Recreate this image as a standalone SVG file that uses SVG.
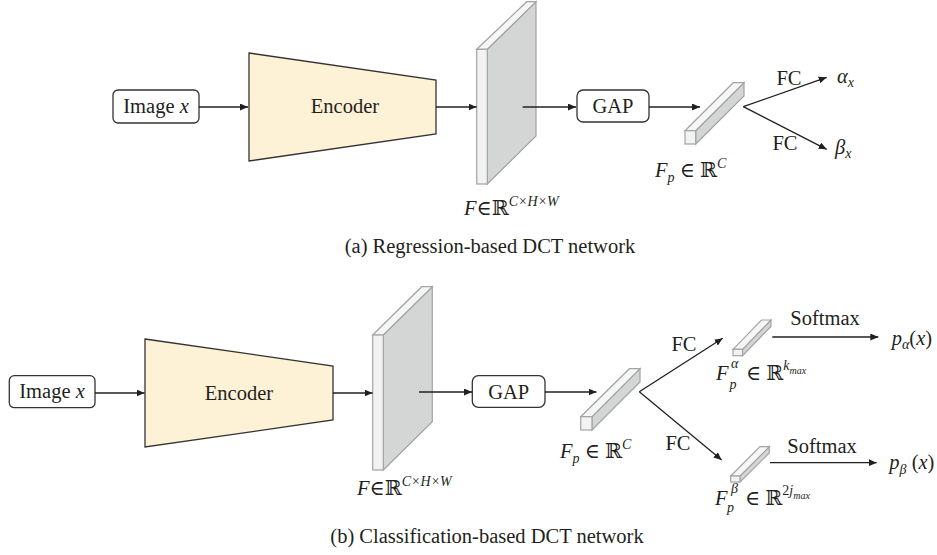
<svg xmlns="http://www.w3.org/2000/svg" width="937" height="555" viewBox="0 0 937 555">
  <defs>
    <marker id="arrow" viewBox="0 0 8 7" refX="8" refY="3.5" markerWidth="8" markerHeight="7" markerUnits="userSpaceOnUse" orient="auto">
      <path d="M0,0 L8,3.5 L0,7 z" fill="#231f20"/>
    </marker>
    <style>
      text { font-family: "Liberation Serif", "DejaVu Serif", serif; font-size: 20.5px; fill: #231f20; }
      .it { font-style: italic; }
      .sm { font-size: 14px; }
      .xs { font-size: 10px; }
      .box { fill: #ffffff; stroke: #333333; stroke-width: 1.3; }
      .enc { fill: #fdf2d6; stroke: #333333; stroke-width: 1.3; }
      .front { fill: #f2f2f2; stroke: #a3a3a3; stroke-width: 1.2; }
      .top { fill: #f6f6f6; stroke: #a3a3a3; stroke-width: 1.2; }
      .side { fill: #d4d5d5; stroke: #a3a3a3; stroke-width: 1.2; }
      .conn line { stroke: #231f20; stroke-width: 1.3; marker-end: url(#arrow); }
    </style>
  </defs>

  <!-- (a) regression branch -->
  <g id="a-image">
    <rect class="box" x="113" y="90" width="86" height="33" rx="5"/>
    <text x="156" y="113" text-anchor="middle">Image <tspan class="it">x</tspan></text>
  </g>
  <g id="a-encoder">
    <polygon class="enc" points="249,53 436,80 436,134 249,161"/>
    <text x="345" y="113" text-anchor="middle">Encoder</text>
  </g>
  <g id="a-feature">
    <polygon class="side" points="487.3,49.3 536,1.7 536,136 487.3,184"/>
    <polygon class="top" points="476.7,49.3 526.7,1.7 536,1.7 487.3,49.3"/>
    <rect class="front" x="476.7" y="49.3" width="10.6" height="134.7"/>
    <text x="464" y="215"><tspan class="it">F</tspan>∈ℝ<tspan class="sm it" dy="-9">C×H×W</tspan></text>
  </g>
  <g id="a-gap">
    <rect class="box" x="577" y="90" width="72" height="32" rx="6"/>
    <text x="613" y="113" text-anchor="middle">GAP</text>
  </g>
  <g id="a-pooled">
    <polygon class="side" points="695.7,130.7 744,82.7 744,96 695.7,144"/>
    <polygon class="top" points="685,130.7 733.3,82.7 744,82.7 695.7,130.7"/>
    <rect class="front" x="685" y="130.7" width="10.7" height="13.3"/>
    <text x="655" y="177"><tspan class="it">F</tspan><tspan class="sm it" dy="5">p</tspan><tspan dy="-5"> ∈ ℝ</tspan><tspan class="sm it" dy="-9">C</tspan></text>
  </g>
  <g id="a-alpha">
    <text x="837" y="83"><tspan class="it">α</tspan><tspan class="sm it" dy="4">x</tspan></text>
  </g>
  <g id="a-beta">
    <text x="835" y="154"><tspan class="it">β</tspan><tspan class="sm it" dy="4">x</tspan></text>
  </g>
  <g id="a-labels">
    <text x="789" y="85" text-anchor="middle">FC</text>
    <text x="785" y="150" text-anchor="middle">FC</text>
    <text x="490" y="253" text-anchor="middle">(a) Regression-based DCT network</text>
  </g>

  <!-- (b) classification branch -->
  <g id="b-image">
    <rect class="box" x="9.3" y="375.7" width="85.7" height="32" rx="5"/>
    <text x="52" y="398" text-anchor="middle">Image <tspan class="it">x</tspan></text>
  </g>
  <g id="b-encoder">
    <polygon class="enc" points="145,339 333,366 333,420 145,447"/>
    <text x="239" y="400" text-anchor="middle">Encoder</text>
  </g>
  <g id="b-feature">
    <polygon class="side" points="383.3,335 432.3,286.7 432.3,421.7 383.3,470"/>
    <polygon class="top" points="372.7,335 421.7,286.7 432.3,286.7 383.3,335"/>
    <rect class="front" x="372.7" y="335" width="10.6" height="135"/>
    <text x="357" y="495"><tspan class="it">F</tspan>∈ℝ<tspan class="sm it" dy="-9">C×H×W</tspan></text>
  </g>
  <g id="b-gap">
    <rect class="box" x="472.3" y="375.7" width="72.7" height="31.6" rx="6"/>
    <text x="508.7" y="399" text-anchor="middle">GAP</text>
  </g>
  <g id="b-pooled">
    <polygon class="side" points="592,416.7 640,368.7 640,382 592,430"/>
    <polygon class="top" points="580.7,416.7 629.4,368.7 640,368.7 592,416.7"/>
    <rect class="front" x="580.7" y="416.7" width="11.3" height="13.3"/>
    <text x="560" y="458"><tspan class="it">F</tspan><tspan class="sm it" dy="5">p</tspan><tspan dy="-5"> ∈ ℝ</tspan><tspan class="sm it" dy="-9">C</tspan></text>
  </g>
  <g id="b-alpha-feat">
    <polygon class="side" points="742.5,349.3 771,320 771,326.4 742.5,355.7"/>
    <polygon class="top" points="733,349.3 761.5,320 771,320 742.5,349.3"/>
    <rect class="front" x="733" y="349.3" width="9.5" height="6.4"/>
    <text x="716" y="380" class="it">F</text>
    <text x="731" y="368" class="sm it">α</text>
    <text x="729.5" y="389" class="sm it">p</text>
    <text x="746" y="380">∈ ℝ<tspan class="sm it" dy="-10">k</tspan><tspan class="xs it" dy="4">max</tspan></text>
  </g>
  <g id="b-beta-feat">
    <polygon class="side" points="740,476 769.3,446.7 769.3,453 740,482"/>
    <polygon class="top" points="730.7,476 760,446.7 769.3,446.7 740,476"/>
    <rect class="front" x="730.7" y="476" width="9.3" height="6"/>
    <text x="715" y="505" class="it">F</text>
    <text x="731" y="493" class="sm it">β</text>
    <text x="727" y="512" class="sm it">p</text>
    <text x="745" y="505">∈ ℝ<tspan class="sm" dy="-10">2</tspan><tspan class="sm it">j</tspan><tspan class="xs it" dy="4">max</tspan></text>
  </g>
  <g id="b-palpha">
    <text x="891.7" y="345"><tspan class="it">p</tspan><tspan class="sm it" dy="4">α</tspan><tspan dy="-4">(</tspan><tspan class="it">x</tspan>)</text>
  </g>
  <g id="b-pbeta">
    <text x="889.3" y="469"><tspan class="it">p</tspan><tspan class="sm it" dy="5">β</tspan><tspan dy="-5"> (</tspan><tspan class="it">x</tspan>)</text>
  </g>
  <g id="b-labels">
    <text x="684" y="351" text-anchor="middle">FC</text>
    <text x="678" y="450" text-anchor="middle">FC</text>
    <text x="825" y="325" text-anchor="middle">Softmax</text>
    <text x="822" y="453" text-anchor="middle">Softmax</text>
    <text x="487" y="543" text-anchor="middle">(b) Classification-based DCT network</text>
  </g>

  <!-- connectors -->
  <g id="connectors" class="conn">
    <line x1="199" y1="107" x2="248" y2="107"/>
    <line x1="436" y1="107" x2="476.5" y2="107"/>
    <line x1="522.7" y1="107" x2="576" y2="107"/>
    <line x1="649" y1="107" x2="700" y2="107"/>
    <line x1="743.3" y1="106.7" x2="826.7" y2="77.3"/>
    <line x1="743.3" y1="106.7" x2="826.7" y2="149.3"/>

    <line x1="95" y1="393" x2="144.5" y2="393"/>
    <line x1="333" y1="393" x2="372.5" y2="393"/>
    <line x1="419" y1="392" x2="472" y2="392"/>
    <line x1="545" y1="392" x2="596.5" y2="392"/>
    <line x1="639.3" y1="391.7" x2="722.7" y2="338.3"/>
    <line x1="639.3" y1="391.7" x2="721.7" y2="460"/>
    <line x1="772.3" y1="337" x2="878.3" y2="337"/>
    <line x1="770" y1="462.7" x2="876.7" y2="462.7"/>
  </g>
</svg>
